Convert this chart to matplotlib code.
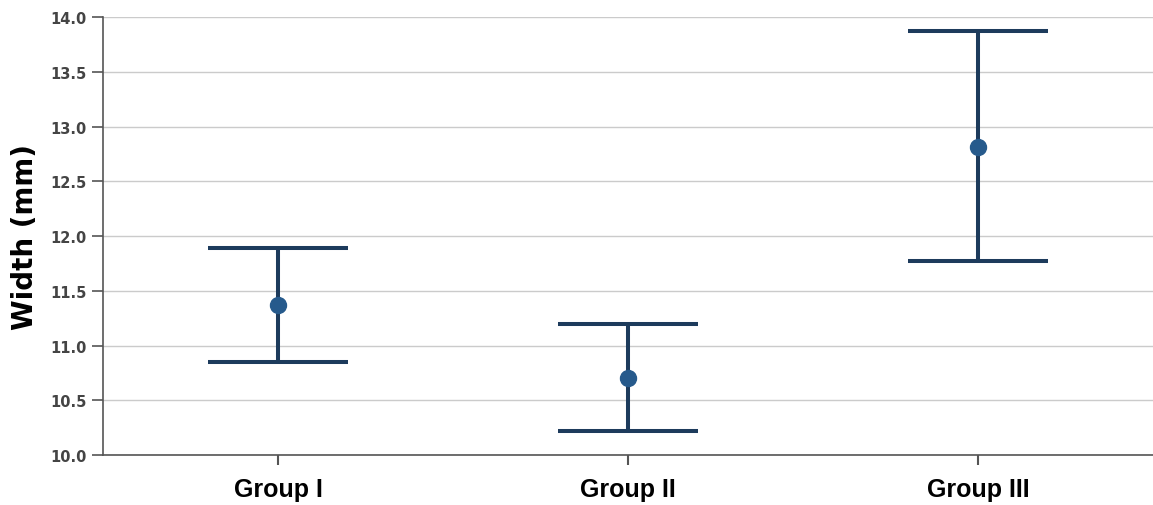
import matplotlib
matplotlib.use("Agg")
import matplotlib.pyplot as plt
import numpy as np

categories = ["Group I", "Group II", "Group III"]
means = [11.37, 10.70, 12.81]
upper = [11.89, 11.20, 13.87]
lower = [10.85, 10.22, 11.77]
yticks = [10.0, 10.5, 11.0, 11.5, 12.0, 12.5, 13.0, 13.5, 14.0]

line_color = "#1d3b5c"
marker_color = "#265a8c"

fig = plt.figure(figsize=(11.53, 5.06), dpi=100)
ax = fig.add_axes([0.0893, 0.0988, 0.9107, 0.8656])

x = np.arange(len(categories))
ax.vlines(x, lower, upper, color=line_color, lw=2.9, zorder=3)
ax.hlines(upper, x - 0.2, x + 0.2, color=line_color, lw=2.9, zorder=3)
ax.hlines(lower, x - 0.2, x + 0.2, color=line_color, lw=2.9, zorder=3)
ax.plot(x, means, "o", color=marker_color, ms=11.5, zorder=4)

ax.set_xlim(-0.5, 2.5)
ax.set_ylim(10.0, 14.0)
ax.set_yticks(yticks)
ax.set_yticklabels([f"{v:.1f}" for v in yticks], fontsize=10.5, fontweight="bold",
                   color="#444444", family="DejaVu Sans")
ax.set_xticks(x)
ax.set_xticklabels(categories, fontsize=18, fontweight="bold", family="Liberation Sans")

ax.grid(axis="y", color="#cbcbcb", lw=1)
ax.set_axisbelow(True)
for s in ["top", "right"]:
    ax.spines[s].set_visible(False)
ax.spines["left"].set_color("#555555")
ax.spines["bottom"].set_color("#555555")
ax.spines["left"].set_linewidth(1.2)
ax.spines["bottom"].set_linewidth(1.2)
ax.tick_params(axis="y", length=8, width=1.2, color="#555555", pad=4)
ax.tick_params(axis="x", length=7, width=1.5, color="#555555", pad=9)

ax.set_ylabel("Width (mm)", fontsize=20, fontweight="bold", family="DejaVu Sans", labelpad=8)

fig.savefig("out.png", dpi=100)
